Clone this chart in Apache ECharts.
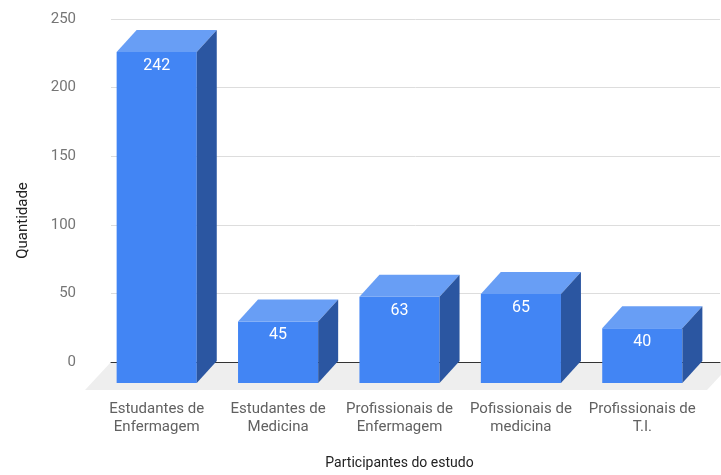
<!DOCTYPE html>
<html>
<head>
<meta charset="utf-8">
<script src="https://cdn.jsdelivr.net/npm/echarts@6/dist/echarts.min.js"></script>
<style>
html,body{margin:0;padding:0;background:#fff;}
#chart{width:721px;height:475px;}
</style>
</head>
<body>
<div id="chart"></div>
<script>
const categories = ['Estudantes de\nEnfermagem', 'Estudantes de\nMedicina', 'Profissionais de\nEnfermagem', 'Pofissionais de\nmedicina', 'Profissionais de\nT.I.'];
const values = [242, 45, 63, 65, 40];
const yMin = 0, yMax = 250, yInterval = 50;
const xTitle = 'Participantes do estudo';
const yTitle = 'Quantidade';

const DX = 20, DY = 22;
const FONT = 'Roboto, "Noto Sans", sans-serif';

const chart = echarts.init(document.getElementById('chart'), null, {renderer: 'canvas'});

const barData = values.map((v, i) => [i, v]);

const option = {
  backgroundColor: '#ffffff',
  animation: false,
  grid: [
    {left: 111, right: 1, top: 19, bottom: 113},
    {left: 96, right: 18, top: 19, bottom: 113}
  ],
  xAxis: [
    {
      gridIndex: 0, type: 'category', data: categories,
      axisLine: {show: true, lineStyle: {color: '#333333', width: 1}},
      axisTick: {show: false}, axisLabel: {show: false}, splitLine: {show: false}
    },
    {
      gridIndex: 1, type: 'category', data: categories,
      axisLine: {show: false}, axisTick: {show: false},
      axisLabel: {color: '#616161', fontSize: 15, fontFamily: FONT, lineHeight: 18, margin: 39, interval: 0},
      name: xTitle, nameLocation: 'middle', nameGap: 95,
      nameTextStyle: {color: '#222222', fontSize: 14, fontFamily: FONT}
    }
  ],
  yAxis: [
    {
      gridIndex: 0, type: 'value', min: yMin, max: yMax, interval: yInterval,
      axisLine: {show: false}, axisTick: {show: false},
      axisLabel: {color: '#757575', fontSize: 15, fontFamily: FONT, margin: 35},
      splitLine: {show: true, lineStyle: {color: '#dddddd', width: 1}},
      name: yTitle, nameLocation: 'middle', nameGap: 80, nameRotate: 90,
      nameTextStyle: {color: '#222222', fontSize: 15, fontFamily: FONT, padding: [0, 60, 0, 0]}
    },
    {
      gridIndex: 1, type: 'value', min: yMin, max: yMax, interval: yInterval,
      show: false
    }
  ],
  series: [
    {
      type: 'custom',
      xAxisIndex: 0, yAxisIndex: 0,
      z: -1,
      silent: true,
      data: [[0, 0]],
      renderItem: function (params, api) {
        const cs = params.coordSys;
        const yb = cs.y + cs.height;
        const depth = 28, ddx = 26;
        return {
          type: 'polygon',
          shape: {points: [[cs.x, yb], [cs.x + cs.width + 13, yb], [cs.x + cs.width + 13 - ddx, yb + depth], [cs.x - ddx, yb + depth]]},
          style: {fill: '#eeeeee'}
        };
      }
    },
    {
      type: 'custom',
      xAxisIndex: 1, yAxisIndex: 1,
      z: 3,
      data: barData,
      renderItem: function (params, api) {
        const i = api.value(0);
        const v = api.value(1);
        const base = api.coord([i, 0]);
        const top = api.coord([i, v]);
        const bw = api.size([1, 0])[0] * 0.66;
        const xl = base[0] - bw / 2, xr = base[0] + bw / 2;
        const yb = base[1] + DY, yt = top[1] + DY;
        return {
          type: 'group',
          children: [
            {type: 'rect', shape: {x: xl, y: yt, width: bw, height: yb - yt}, style: {fill: '#4285f4'}},
            {type: 'polygon', shape: {points: [[xl, yt], [xl + DX, yt - DY], [xr + DX, yt - DY], [xr, yt]]}, style: {fill: '#689ef5'}},
            {type: 'polygon', shape: {points: [[xr, yt], [xr + DX, yt - DY], [xr + DX, yb - DY], [xr, yb]]}, style: {fill: '#2b56a1'}},
            {type: 'text', style: {text: String(v), x: base[0], y: yt + 14, align: 'center', verticalAlign: 'middle', fill: '#ffffff', fontSize: 16, fontFamily: FONT}}
          ]
        };
      }
    }
  ]
};
chart.setOption(option);
</script>
</body>
</html>
